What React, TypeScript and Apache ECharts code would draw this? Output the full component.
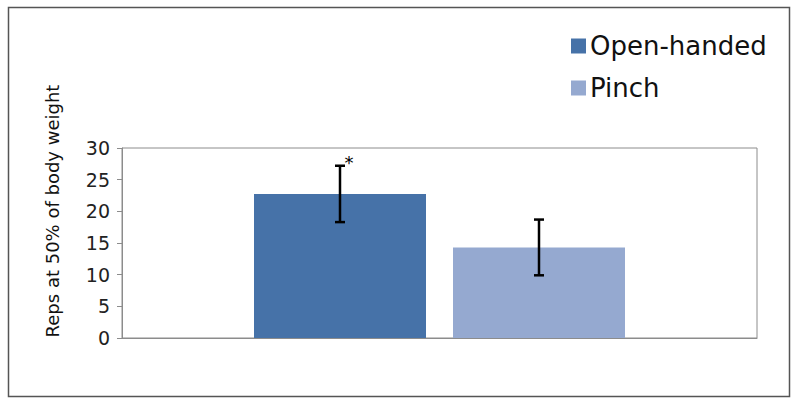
import React, { useEffect, useRef } from "react";
import * as echarts from "echarts";

const categories = ["Grip"];
const seriesNames = ["Open-handed", "Pinch"];
const means = [22.75, 14.3];
const errors = [4.45, 4.4];
const marks = ["*", ""];
const yTicks = { min: 0, max: 30, interval: 5 };
const colors = ["#4672A8", "#95A9D0"];

const BAR_W = 172;
const GAP = 27;

export default function App() {
  const ref = useRef<HTMLDivElement>(null);
  useEffect(() => {
    if (!ref.current) return;
    const chart = echarts.init(ref.current, null, { renderer: "svg" });
    const font = "DejaVu Sans";
    const option: any = {
      animation: false,
      backgroundColor: "#fff",
      textStyle: { fontFamily: font },
      legend: {
        data: seriesNames,
        orient: "vertical",
        left: 566,
        top: 28,
        itemGap: 16,
        itemWidth: 15,
        itemHeight: 15,
        icon: "rect",
        textStyle: { fontSize: 26, color: "#111", fontFamily: font, padding: [0, 0, 0, -1] },
        selectedMode: false,
      },
      grid: {
        left: 122,
        right: 41,
        top: 148,
        bottom: 69,
        show: true,
        borderColor: "#8c8c8c",
        borderWidth: 1,
        backgroundColor: "transparent",
      },
      xAxis: {
        type: "category",
        data: categories,
        axisLine: { show: true, lineStyle: { color: "#8c8c8c", width: 1 } },
        axisTick: { show: false },
        axisLabel: { show: false },
      },
      yAxis: {
        type: "value",
        min: yTicks.min,
        max: yTicks.max,
        interval: yTicks.interval,
        axisLine: { show: true, lineStyle: { color: "#8c8c8c", width: 1 } },
        axisTick: { show: true, length: 5, lineStyle: { color: "#8c8c8c" } },
        axisLabel: { fontSize: 19, color: "#222", margin: 12, fontFamily: font },
        splitLine: { show: false },
      },
      series: [
        ...seriesNames.map((name, i) => ({
          name,
          type: "bar",
          data: [means[i]],
          barWidth: BAR_W,
          barGap: (GAP / BAR_W) * 100 + "%",
          itemStyle: { color: colors[i] },
        })),
        {
          type: "custom",
          name: "errors",
          z: 10,
          itemStyle: { color: "#000" },
          data: means.map((m, i) => [i, m, errors[i]]),
          renderItem: (params: any, api: any) => {
            const idx = api.value(0);
            const m = api.value(1);
            const e = api.value(2);
            const center = api.coord([0, m])[0];
            const off = (BAR_W + GAP) / 2;
            const x = center + (idx === 0 ? -off : off);
            const yTop = api.coord([0, m + e])[1];
            const yBot = api.coord([0, m - e])[1];
            const ls = { stroke: "#000", lineWidth: 2.5 };
            const children: any[] = [
              { type: "line", shape: { x1: x, y1: yTop, x2: x, y2: yBot }, style: ls },
              { type: "line", shape: { x1: x - 5, y1: yTop, x2: x + 5, y2: yTop }, style: ls },
              { type: "line", shape: { x1: x - 5, y1: yBot, x2: x + 5, y2: yBot }, style: ls },
            ];
            const mk = marks[idx];
            if (mk) {
              children.push({
                type: "text",
                x: x + 9,
                y: yTop - 3,
                style: {
                  text: mk,
                  align: "center",
                  verticalAlign: "middle",
                  fontSize: 18,
                  fontFamily: font,
                  fill: "#000",
                  stroke: "none",
                },
              });
            }
            return { type: "group", children };
          },
        },
      ],
      graphic: [
        {
          type: "rect",
          shape: { x: 8.5, y: 7.5, width: 781, height: 389 },
          style: { fill: "none", stroke: "#555", lineWidth: 1.5 },
          silent: true,
        },
        {
          type: "text",
          x: 52,
          y: 211,
          rotation: Math.PI / 2,
          style: {
            text: "Reps at 50% of body weight",
            fontSize: 18,
            fontFamily: font,
            fill: "#111",
            align: "center",
            verticalAlign: "middle",
          },
        },
      ],
    };
    chart.setOption(option);
    return () => chart.dispose();
  }, []);
  return (
    <div
      ref={ref}
      style={{ position: "fixed", left: 0, top: 0, width: 798, height: 407 }}
    />
  );
}
